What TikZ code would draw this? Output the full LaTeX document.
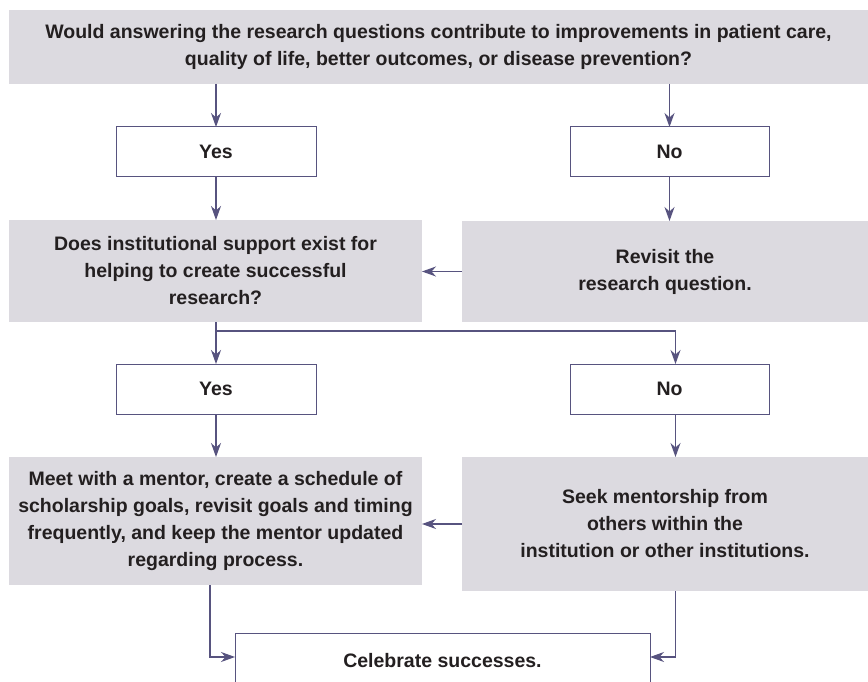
\documentclass[tikz,border=0pt]{standalone}
\usepackage{fontspec}
\setmainfont{Liberation Sans}
\usetikzlibrary{arrows.meta,calc}
\definecolor{boxfill}{HTML}{DCDAE0}
\definecolor{linec}{HTML}{57537F}
\definecolor{txt}{HTML}{231F20}
\begin{document}
\begin{tikzpicture}[x=1pt,y=-1pt,
  every node/.style={font=\bfseries\fontsize{19.5}{27}\selectfont, text=txt, align=center, inner sep=0pt, outer sep=0pt},
  graybox/.style={fill=boxfill, anchor=north west},
  whitebox/.style={draw=linec, line width=1pt, fill=white, anchor=north west},
  arr/.style={draw=linec, line width=1.2pt, -{Stealth[length=14pt,width=10pt,inset=4.5pt]}}]
\useasboundingbox (0,0) rectangle (868,682);
\clip (0,0) rectangle (868,682);
\fill[white] (0,0) rectangle (868,682);
% nodes
\node[graybox, minimum width=859pt, minimum height=74pt] (q1) at (9,10)
  {Would answering the research questions contribute to improvements in patient care,\\quality of life, better outcomes, or disease prevention?};
\node[whitebox, minimum width=200pt, minimum height=50pt] (yes1) at (116,127) {Yes};
\node[whitebox, minimum width=199pt, minimum height=50pt] (no1) at (570,127) {No};
\node[graybox, minimum width=413pt, minimum height=102pt] (q2) at (9,220)
  {Does institutional support exist for\\helping to create successful\\research?};
\node[graybox, minimum width=406pt, minimum height=101pt] (rev) at (462,221)
  {Revisit the\\research question.};
\node[whitebox, minimum width=200pt, minimum height=50pt] (yes2) at (116,364) {Yes};
\node[whitebox, minimum width=199pt, minimum height=50pt] (no2) at (570,364) {No};
\node[graybox, minimum width=413pt, minimum height=128pt] (act) at (9,457)
  {Meet with a mentor, create a schedule of\\scholarship goals, revisit goals and timing\\frequently, and keep the mentor updated\\regarding process.};
\node[graybox, minimum width=406pt, minimum height=134pt] (seek) at (462,457)
  {Seek mentorship from\\others within the\\institution or other institutions.};
\node[whitebox, minimum width=415pt, minimum height=56pt] (cel) at (235,633) {Celebrate successes.};
% helper coordinates
\coordinate (br) at ($(yes2.north |- q2.south)+(0,9)$);
\coordinate (nx) at ($(no2.north)+(6,0)$);
\coordinate (ax) at ($(act.south)+(-5.5,0)$);
\coordinate (celL) at ($(cel.north west)+(0,24)$);
\coordinate (celR) at ($(cel.north east)+(0,24)$);
% connectors
\draw[arr] (yes1.north |- q1.south) -- (yes1.north);
\draw[arr] (no1.north |- q1.south) -- (no1.north);
\draw[arr] (yes1.south) -- (yes1.south |- q2.north);
\draw[arr] (no1.south) -- (no1.south |- rev.north);
\draw[arr] (rev.west) -- (rev.west -| q2.east);
\draw[arr] (yes2.north |- q2.south) -- (yes2.north);
\draw[arr] (br) -| (nx);
\draw[arr] (yes2.south) -- (yes2.south |- act.north);
\draw[arr] (nx |- no2.south) -- (nx |- seek.north);
\draw[arr] (seek.west) -- (seek.west -| act.east);
\draw[arr] (ax) |- (celL);
\draw[arr] (nx |- seek.south) |- (celR);
\end{tikzpicture}
\end{document}
